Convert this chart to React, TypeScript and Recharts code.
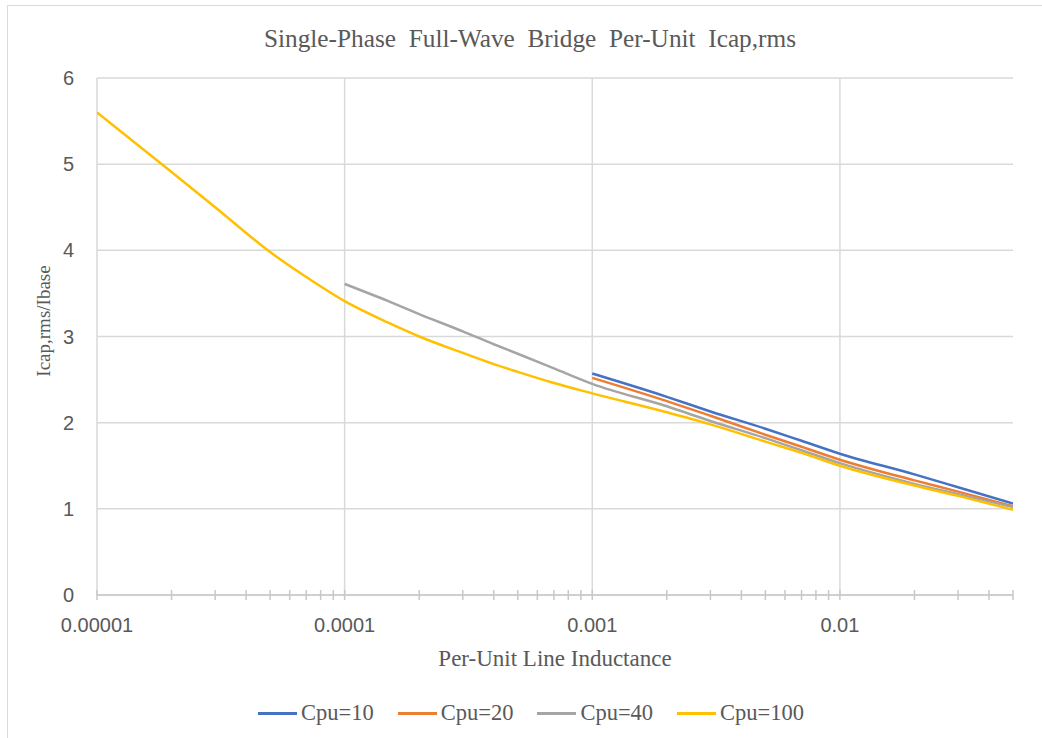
import { LineChart, Line, XAxis, YAxis, CartesianGrid, ReferenceLine, Legend } from "recharts"

// per-unit line inductance (x positions of the sampled points)
const inductance = [
  0.00001, 0.00002, 0.00003, 0.00005, 0.00007,
  0.0001, 0.00015, 0.0002, 0.0003, 0.0004, 0.0005, 0.0007,
  0.001, 0.002, 0.003, 0.005, 0.007,
  0.01, 0.02, 0.03, 0.05,
]

// Icap,rms / Ibase for each Cpu value (null = not plotted)
const cpu10 = [
  null, null, null, null, null,
  null, null, null, null, null, null, null,
  2.57, 2.3, 2.13, 1.93, 1.79,
  1.64, 1.4, 1.25, 1.06,
]
const cpu20 = [
  null, null, null, null, null,
  null, null, null, null, null, null, null,
  2.52, 2.25, 2.08, 1.86, 1.72,
  1.57, 1.33, 1.2, 1.03,
]
const cpu40 = [
  null, null, null, null, null,
  3.61, 3.41, 3.26, 3.06, 2.91, 2.8, 2.63,
  2.45, 2.19, 2.02, 1.82, 1.68,
  1.53, 1.29, 1.17, 1.02,
]
const cpu100 = [
  5.6, 4.91, 4.5, 3.98, 3.69,
  3.41, 3.16, 3.0, 2.81, 2.68, 2.59, 2.46,
  2.34, 2.12, 1.98, 1.78, 1.65,
  1.5, 1.27, 1.15, 0.99,
]

const seriesNames = ["Cpu=10", "Cpu=20", "Cpu=40", "Cpu=100"]
const seriesColors = ["#4472C4", "#ED7D31", "#A5A5A5", "#FFC000"]

const xTicks = [
  0.00001, 0.00002, 0.00003, 0.00004, 0.00005, 0.00006, 0.00007, 0.00008, 0.00009,
  0.0001, 0.0002, 0.0003, 0.0004, 0.0005, 0.0006, 0.0007, 0.0008, 0.0009,
  0.001, 0.002, 0.003, 0.004, 0.005, 0.006, 0.007, 0.008, 0.009,
  0.01, 0.02, 0.03, 0.04, 0.05,
]
const majorTicks = [0.00001, 0.0001, 0.001, 0.01]
const majorLabels = ["0.00001", "0.0001", "0.001", "0.01"]
const yTicks = [0, 1, 2, 3, 4, 5, 6]

const data = inductance.map((L, i) => ({
  L,
  c10: cpu10[i],
  c20: cpu20[i],
  c40: cpu40[i],
  c100: cpu100[i],
}))
const keys = ["c10", "c20", "c40", "c100"]

const SERIF = "'Liberation Serif', 'Times New Roman', serif"
const SANS = "'Liberation Sans', Arial, sans-serif"
const TEXT = "#595959"
const GRID = "#d9d9d9"
const AXIS = "#c8c8c8"

const TICK_SIZE = 6
const TICK_MARGIN = 2

function XTick(props: any) {
  const { x, y, payload } = props
  const axisY = y - TICK_SIZE - TICK_MARGIN
  const idx = majorTicks.indexOf(payload.value)
  return (
    <g>
      <line x1={x} x2={x} y1={axisY - 5} y2={axisY + 5} stroke={AXIS} strokeWidth={1.5} />
      {idx >= 0 && (
        <text x={x} y={axisY + 30} textAnchor="middle" dominantBaseline="central"
          fill={TEXT} fontSize={20} fontFamily={SANS}>
          {majorLabels[idx]}
        </text>
      )}
    </g>
  )
}

function LegendContent() {
  return (
    <div style={{ display: "flex", alignItems: "center", height: 30 }}>
      {seriesNames.map((name, i) => (
        <div key={name} style={{ display: "flex", alignItems: "center", marginRight: 24 }}>
          <div style={{ width: 39, height: 3, background: seriesColors[i], marginRight: 4 }} />
          <span style={{ fontFamily: SERIF, fontSize: 22.5, color: TEXT, lineHeight: "30px" }}>{name}</span>
        </div>
      ))}
    </div>
  )
}

export default function App() {
  return (
    <div style={{ position: "absolute", left: 0, top: 0, width: 1042, height: 738, overflow: "hidden", background: "#fff" }}>
      <div style={{ position: "absolute", left: 7, top: 5, width: 1100, height: 800, border: `1px solid ${GRID}` }} />
      <div style={{
        position: "absolute", left: 18, top: 23, width: 1024, textAlign: "center",
        fontFamily: SERIF, fontSize: 25.3, lineHeight: "30px", color: TEXT, whiteSpace: "pre",
      }}>
        {"Single-Phase  Full-Wave  Bridge  Per-Unit  Icap,rms"}
      </div>
      <div style={{ position: "absolute", left: 0, top: 0 }}>
        <LineChart width={1042} height={738} data={data} margin={{ top: 78, right: 29, bottom: 33, left: 7 }}>
          <CartesianGrid vertical={false} stroke={GRID} strokeWidth={1.5} />
          {majorTicks.map((t) => (
            <ReferenceLine key={t} x={t} stroke={GRID} strokeWidth={1.5} />
          ))}
          <XAxis
            dataKey="L"
            type="number"
            scale="log"
            domain={[0.00001, 0.05]}
            allowDataOverflow
            ticks={xTicks}
            interval={0}
            height={80}
            tickLine={false}
            tickSize={TICK_SIZE}
            tickMargin={TICK_MARGIN}
            axisLine={{ stroke: AXIS, strokeWidth: 1.5 }}
            tick={<XTick />}
            label={{
              content: (p: any) => (
                <text x={p.viewBox.x + p.viewBox.width / 2} y={658} textAnchor="middle" dominantBaseline="central"
                  fill={TEXT} fontSize={23} fontFamily={SERIF}>
                  Per-Unit Line Inductance
                </text>
              ),
            }}
          />
          <YAxis
            type="number"
            domain={[0, 6]}
            ticks={yTicks}
            width={90}
            axisLine={false}
            tickLine={false}
            tickSize={6}
            tickMargin={17}
            tick={{ fill: TEXT, fontSize: 20, fontFamily: SANS }}
            label={{
              content: () => (
                <text x={43} y={321} textAnchor="middle" dominantBaseline="central"
                  transform="rotate(-90 43 321)" fill={TEXT} fontSize={19} fontFamily={SERIF}>
                  Icap,rms/Ibase
                </text>
              ),
            }}
          />
          <Legend
            verticalAlign="bottom"
            content={<LegendContent />}
            wrapperStyle={{ left: 258, bottom: 10, width: "auto" }}
          />
          {keys.map((k, i) => (
            <Line
              key={k}
              type="monotone"
              dataKey={k}
              name={seriesNames[i]}
              stroke={seriesColors[i]}
              strokeWidth={2.5}
              dot={false}
              activeDot={false}
              isAnimationActive={false}
            />
          ))}
        </LineChart>
      </div>
    </div>
  )
}
